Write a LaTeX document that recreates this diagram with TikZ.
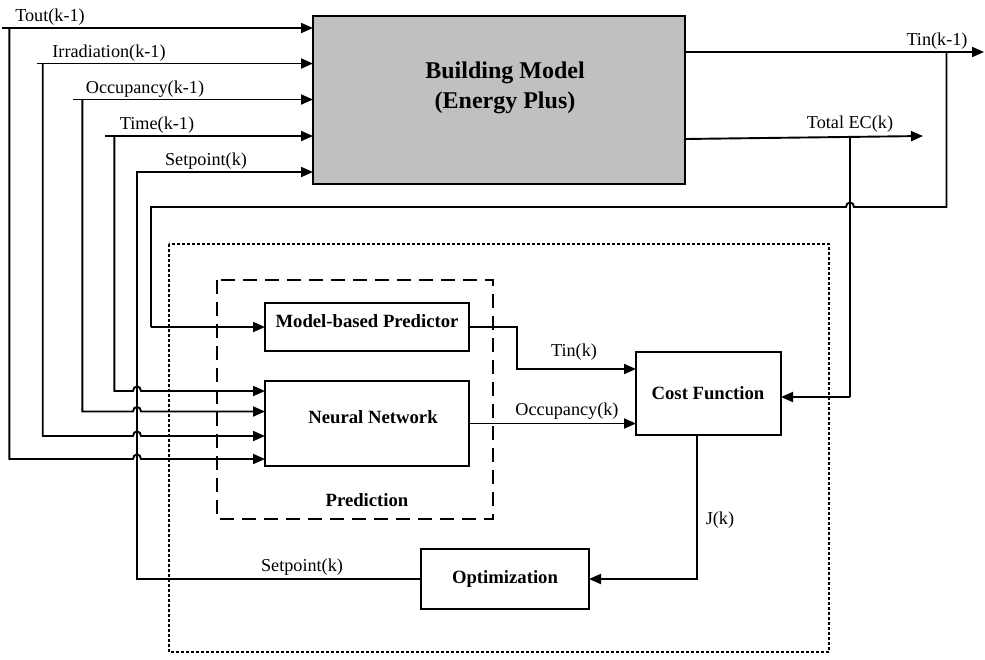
\documentclass[tikz,border=0pt]{standalone}
\usepackage{fontspec}
\setmainfont{Liberation Serif}
\usetikzlibrary{arrows.meta}
\begin{document}
\begin{tikzpicture}[x=1pt,y=-1pt,
  ln/.style={line width=1.9pt},
  arr/.style={line width=1.9pt,-{Triangle[length=12pt,width=10pt]}},
  blk/.style={draw,line width=1.9pt,fill=white,inner sep=0pt,outer sep=0pt},
  lbl/.style={font=\fontsize{18.2}{20}\selectfont,inner sep=0pt},
  blbl/.style={font=\fontsize{18.7}{21}\selectfont\bfseries,inner sep=0pt}]
\useasboundingbox (0,0) rectangle (985,659);

% frames
\draw[line width=1.9pt,dash pattern=on 3pt off 2pt] (169,244) rectangle (829,652);
\draw[line width=1.9pt,dash pattern=on 14pt off 8pt] (217,280) rectangle (493,519);

% blocks
\node[blk,fill={rgb,255:red,192;green,192;blue,192},minimum width=372pt,minimum height=168pt] (bm) at (499,100) {};
\node[blk,minimum width=204pt,minimum height=48pt] (mbp) at (367,327) {};
\node[blk,minimum width=204pt,minimum height=85pt] (nn) at (367,423.5) {};
\node[blk,minimum width=145pt,minimum height=83pt] (cf) at (708.5,393.5) {};
\node[blk,minimum width=168pt,minimum height=60pt] (opt) at (505,579) {};

% block texts
\node[font=\fontsize{24}{30}\selectfont\bfseries,align=center,inner sep=0pt] (bmt) at (505,88) {Building Model\\(Energy Plus)};
\node[blbl] (mbpt) at (367,321) {Model-based Predictor};
\node[blbl] (nnt) at (373,417) {Neural Network};
\node[blbl] (cft) at (708,393) {Cost Function};
\node[blbl] (optt) at (505,579) {Optimization};
\node[blbl] (predt) at (367,500) {Prediction};

% coordinates
\coordinate (s1) at (1.7,28);
\coordinate (s2) at (37,63.5);
\coordinate (s3) at (73,99.5);
\coordinate (s4) at (105,136);
\coordinate (v1) at (9.3,28);
\coordinate (v2) at (42.7,63.5);
\coordinate (v3) at (82.3,99.5);
\coordinate (v4) at (114.3,136);
\coordinate (sp) at (137,172);
\coordinate (tinend) at (984,52);
\coordinate (ecend) at (923,136);

% building inputs
\draw[arr] (s1) -- (s1 -| bm.west);
\draw[arr] (s2) -- (s2 -| bm.west);
\draw[arr] (s3) -- (s3 -| bm.west);
\draw[arr] (s4) -- (s4 -| bm.west);
\draw[arr] (opt.west) -- (137,579) -- (sp) -- (sp -| bm.west);

% neural network inputs (hopping over the setpoint line)
\draw[arr] (v1) -- (9.3,459) -- (133,459) .. controls (133,453) and (141,453) .. (141,459) -- (nn.west |- 0,459);
\draw[arr] (v2) -- (42.7,436) -- (133,436) .. controls (133,430) and (141,430) .. (141,436) -- (nn.west |- 0,436);
\draw[arr] (v3) -- (82.3,411.5) -- (133,411.5) .. controls (133,405.5) and (141,405.5) .. (141,411.5) -- (nn.west |- 0,411.5);
\draw[arr] (v4) -- (114.3,391) -- (133,391) .. controls (133,385) and (141,385) .. (141,391) -- (nn.west |- 0,391);

% building outputs
\draw[arr] (bm.east |- tinend) -- (tinend);
\draw[arr] (bm.east |- 0,139) -- (ecend);
\draw[ln] (946.5,52) -- (946.5,207) -- (854,207) .. controls (854,201) and (846,201) .. (846,207) -- (151,207) -- (151,327);
\draw[arr] (151,327) -- (mbp.west);
\draw[ln] (850,137.3) -- (850,397);
\draw[arr] (850,397) -- (cf.east |- 0,397);

% prediction to cost function
\draw[arr] (mbp.east) -- (517,327) -- (517,369) -- (cf.west |- 0,369);
\draw[arr] (nn.east) -- (cf.west |- nn.east);

% cost function to optimization
\coordinate (cfo) at (697,435);
\draw[arr] (cfo) -- (697,579) -- (opt.east);

% labels
\node[lbl] (l1) at (50,17) {Tout(k-1)};
\node[lbl] (l2) at (109,53) {Irradiation(k-1)};
\node[lbl] (l3) at (145,89) {Occupancy(k-1)};
\node[lbl] (l4) at (157,125) {Time(k-1)};
\node[lbl] (l5) at (206,161) {Setpoint(k)};
\node[lbl] (l6) at (937,41) {Tin(k-1)};
\node[lbl] (l7) at (850,124) {Total EC(k)};
\node[lbl] (l8) at (574,352) {Tin(k)};
\node[lbl] (l9) at (567,411) {Occupancy(k)};
\node[lbl] (l10) at (720,520) {J(k)};
\node[lbl] (l11) at (302,567) {Setpoint(k)};
\end{tikzpicture}
\end{document}
